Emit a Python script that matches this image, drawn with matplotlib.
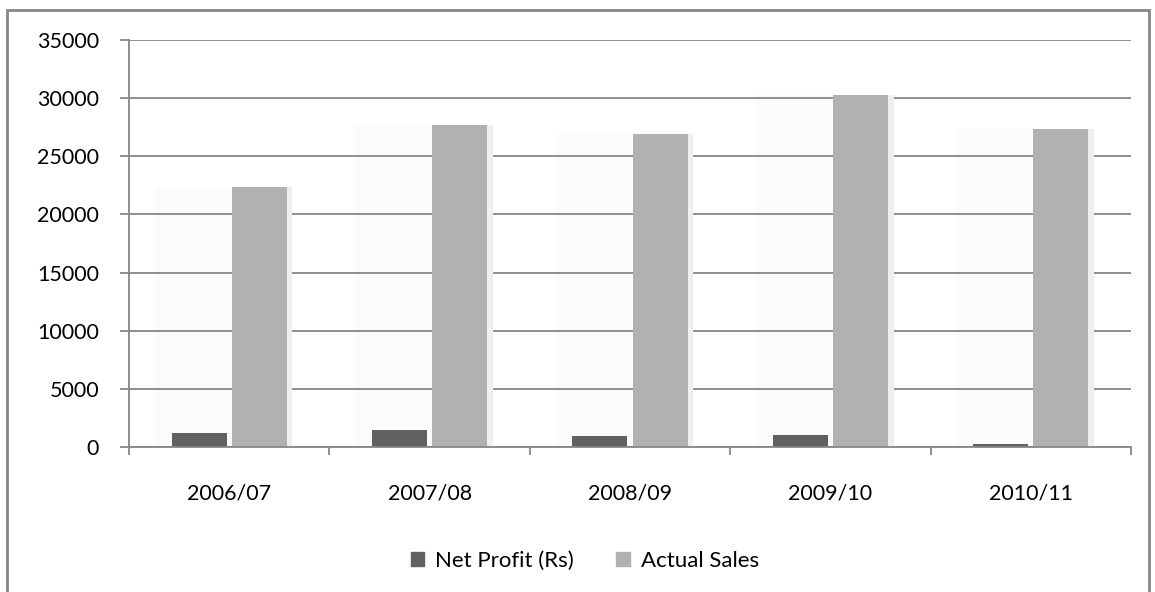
import numpy as np
import matplotlib.pyplot as plt
from matplotlib.patches import Rectangle

years = ["2006/07", "2007/08", "2008/09", "2009/10", "2010/11"]
net_profit = [1200, 1460, 950, 1030, 260]
actual_sales = [22350, 27650, 26900, 30280, 27350]
yticks = [0, 5000, 10000, 15000, 20000, 25000, 30000, 35000]

plt.rcParams['font.family'] = ['Lato', 'DejaVu Sans']

fig = plt.figure(figsize=(11.55, 5.92), dpi=100)
ax = fig.add_axes([129 / 1155, 1 - 447 / 592, (1131 - 129) / 1155, (447 - 40) / 592])

x = np.arange(len(years))
w = 0.275
gap = 0.0125

# very faint soft shadow behind each pair of bars
for xi, s in zip(x, actual_sales):
    ax.bar(xi - 0.04, s, width=0.66, color='#fbfbfb', zorder=0.5)
    ax.bar(xi + w / 2 + gap + 0.015, s, width=w + 0.025, color='#efefef', zorder=1.5)

ax.bar(x - w / 2 - gap, net_profit, width=w, color='#616161', zorder=2)
ax.bar(x + w / 2 + gap, actual_sales, width=w, color='#b1b1b1', zorder=2)

ax.set_xlim(-0.5, len(years) - 0.5)
ax.set_ylim(0, 35000)
ax.set_yticks(yticks)
ax.set_yticklabels([str(v) for v in yticks], fontsize=15.5)
ax.yaxis.grid(True, color='#868686', linewidth=1.3, zorder=1)
ax.set_axisbelow(True)

ax.set_xticks(x)
ax.set_xticklabels(years, fontsize=15.5)
ax.set_xticks(np.arange(len(years) + 1) - 0.5, minor=True)
ax.tick_params(axis='x', which='major', length=0, pad=26)
ax.tick_params(axis='x', which='minor', length=6, color='#868686', width=1.3, direction='out')
ax.tick_params(axis='y', length=6.5, color='#868686', width=1.3, pad=15)

for side in ['top', 'right']:
    ax.spines[side].set_visible(False)
for side in ['left', 'bottom']:
    ax.spines[side].set_color('#868686')
    ax.spines[side].set_linewidth(1.3)

handles = [Rectangle((0, 0), 1, 1, color='#616161'), Rectangle((0, 0), 1, 1, color='#b1b1b1')]
fig.legend(handles, ["Net Profit (Rs)", "Actual Sales"], loc='center',
           bbox_to_anchor=(585 / 1155, 1 - 561 / 592), ncol=2, frameon=False,
           fontsize=16, handlelength=0.6, handleheight=0.6, columnspacing=1.9,
           handletextpad=0.5)

# outer chart frame
fig.patches.append(Rectangle((7 / 1155, -0.01), (1149 - 7) / 1155, 1 - 10 / 592 + 0.01,
                             transform=fig.transFigure, fill=False,
                             edgecolor='#868686', linewidth=2))

fig.savefig("out.png", dpi=100)
